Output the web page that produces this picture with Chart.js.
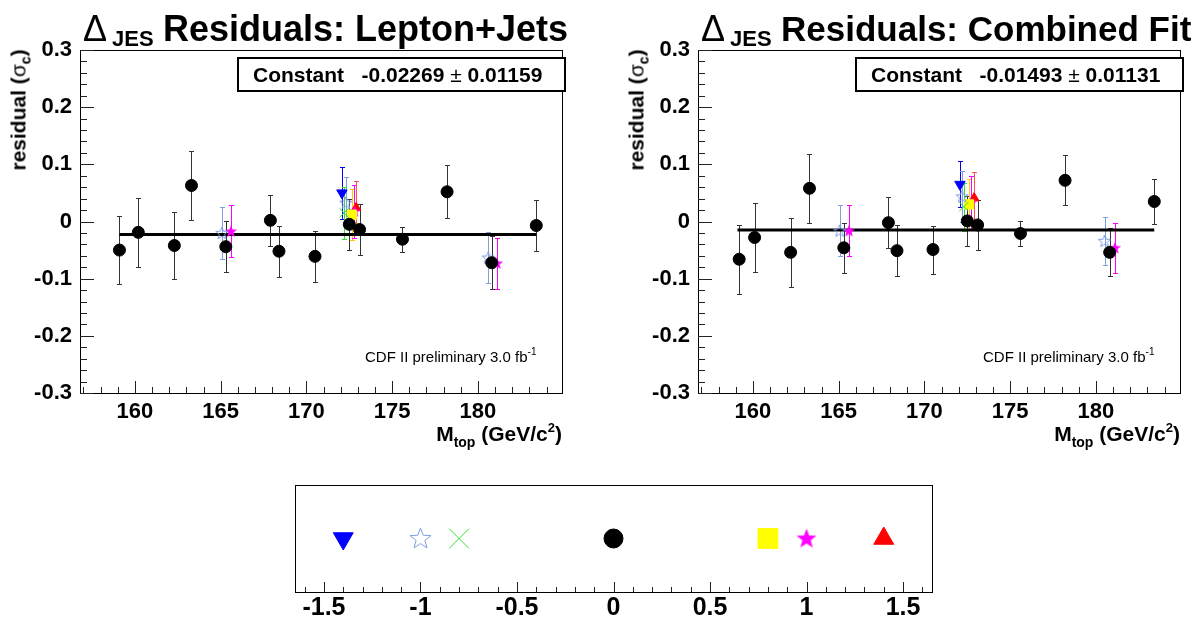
<!DOCTYPE html>
<html>
<head>
<meta charset="utf-8">
<title>JES residuals</title>
<script src="https://cdn.jsdelivr.net/npm/chart.js@4.4.1/dist/chart.umd.min.js"></script>
<style>
  body { margin:0; width:1203px; height:627px; position:relative; overflow:hidden; background:#fff;
         font-family:"Liberation Sans", Arial, Helvetica, sans-serif; color:#000; }
  canvas { position:absolute; }
  .txt { position:absolute; white-space:pre; line-height:1; }
  .statbox { position:absolute; border:2px solid #000; box-sizing:border-box; background:#fff; }
</style>
</head>
<body>
<canvas id="ljChart" width="600" height="460" style="left:0;top:0"></canvas>
<canvas id="cfChart" width="585" height="460" style="left:618px;top:0"></canvas>
<canvas id="keyChart" width="720" height="157" style="left:250px;top:470px"></canvas>
<script>
var FONT = '"Liberation Sans", Arial, Helvetica, sans-serif';

// axis ticks
var massTicks = [160, 165, 170, 175, 180];
var resTicks = [-0.3, -0.2, -0.1, 0, 0.1, 0.2, 0.3];
var shiftTicks = [-1.5, -1, -0.5, 0, 0.5, 1, 1.5];

// JES shift of each sample (bottom key), same order as the series below
var shiftVals = [-1.4, -1, -0.8, 0, 0.8, 1, 1.4];

// fit results
var fitConst = [-0.02269, -0.01493];
var fitErr = [0.01159, 0.01131];
var fitRange = [159.1, 183.4];

// Lepton+Jets
var ljBlueX = [172.07], ljBlueY = [0.050], ljBlueE = [0.045];
var ljOpenX = [165.07, 172.3, 180.6], ljOpenY = [-0.020, 0.033, -0.063], ljOpenE = [0.045, 0.045, 0.045];
var ljGreenX = [172.2], ljGreenY = [0.015], ljGreenE = [0.045];
var ljBlackX = [159.1, 160.2, 162.3, 163.3, 165.3, 167.9, 168.4, 170.5, 172.5, 173.1, 175.6, 178.2, 180.8, 183.4];
var ljBlackY = [-0.050, -0.019, -0.042, 0.063, -0.044, 0.002, -0.052, -0.061, -0.005, -0.014, -0.031, 0.052, -0.072, -0.007];
var ljBlackE = [0.060, 0.060, 0.059, 0.060, 0.045, 0.045, 0.045, 0.044, 0.044, 0.044, 0.022, 0.046, 0.046, 0.045];
var ljYellowX = [172.65], ljYellowY = [0.012], ljYellowE = [0.045];
var ljStarX = [165.6, 172.8, 181.1], ljStarY = [-0.017, 0.018, -0.073], ljStarE = [0.045, 0.046, 0.045];
var ljRedX = [172.9], ljRedY = [0.024], ljRedE = [0.046];

// Combined fit
var cfBlueX = [172.07], cfBlueY = [0.065], cfBlueE = [0.040];
var cfOpenX = [165.06, 172.2, 180.5], cfOpenY = [-0.016, 0.044, -0.034], cfOpenE = [0.045, 0.045, 0.042];
var cfGreenX = [172.3], cfGreenY = [0.026], cfGreenE = [0.042];
var cfBlackX = [159.2, 160.1, 162.2, 163.3, 165.3, 167.9, 168.4, 170.5, 172.5, 173.1, 175.6, 178.2, 180.8, 183.4];
var cfBlackY = [-0.066, -0.028, -0.054, 0.058, -0.046, -0.002, -0.051, -0.049, 0.001, -0.006, -0.021, 0.072, -0.054, 0.035];
var cfBlackE = [0.060, 0.060, 0.060, 0.060, 0.044, 0.045, 0.045, 0.042, 0.044, 0.043, 0.022, 0.044, 0.042, 0.040];
var cfYellowX = [172.6], cfYellowY = [0.030], cfYellowE = [0.045];
var cfStarX = [165.6, 172.7, 181.1], cfStarY = [-0.016, 0.033, -0.046], cfStarE = [0.045, 0.047, 0.044];
var cfRedX = [172.9], cfRedY = [0.041], cfRedE = [0.046];

function starImg(r, fill, stroke) {
    var s = Math.ceil(r * 2 + 3);
    var c = document.createElement('canvas');
    c.width = s; c.height = s;
    var g = c.getContext('2d');
    g.beginPath();
    for (var k = 0; k < 10; k++) {
        var rr = k % 2 ? r * 0.42 : r;
        var a = -Math.PI / 2 + k * Math.PI / 5;
        g.lineTo(s / 2 + rr * Math.cos(a), s / 2 + 0.5 + rr * Math.sin(a));
    }
    g.closePath();
    if (fill) { g.fillStyle = fill; g.fill(); }
    if (stroke) { g.strokeStyle = stroke; g.lineWidth = 1; g.stroke(); }
    return c;
}

// marker styles, r = in the residual plots, R = in the key
var marks = [
    { color: '#0000ff', style: 'triangle', rot: 180, r: 6, R: 11.5 },
    { color: '#7f9fdf', img: function (r) { return starImg(r, null, '#7f9fdf'); }, r: 6.5, R: 11 },
    { color: '#33dd33', style: 'crossRot', r: 6.5, R: 14 },
    { color: '#000000', bar: '#333333', style: 'circle', r: 6, R: 9.5 },
    { color: '#ffff00', bar: '#ffcc00', style: 'rect', r: 6.5, R: 14 },
    { color: '#ff00ff', img: function (r) { return starImg(r, '#ff00ff', null); }, r: 6.5, R: 10.5 },
    { color: '#ff0000', bar: '#ff5050', style: 'triangle', rot: 0, r: 5.5, R: 11.5 }
];

function pts(xs, ys) {
    return xs.map(function (x, i) { return { x: x, y: ys[i] }; });
}

function markDataset(m, data, errs, big, order) {
    var r = big ? m.R : m.r;
    return {
        data: data,
        errs: errs,
        errColor: m.bar || m.color,
        order: order,
        pointStyle: m.img ? m.img(r) : m.style,
        rotation: m.rot || 0,
        pointRadius: r,
        pointHoverRadius: r,
        backgroundColor: m.color,
        borderColor: m.color,
        borderWidth: 1
    };
}

var errPlugin = {
    id: 'errbars',
    beforeDatasetsDraw: function (chart) {
        var ctx = chart.ctx, xs = chart.scales.x, ys = chart.scales.y;
        chart.data.datasets.forEach(function (ds) {
            if (!ds.errs) return;
            ctx.save();
            ctx.strokeStyle = ds.errColor;
            ctx.lineWidth = 1;
            ds.data.forEach(function (p, j) {
                var px = Math.round(xs.getPixelForValue(p.x)) + 0.5;
                var y1 = Math.round(ys.getPixelForValue(p.y + ds.errs[j])) + 0.5;
                var y2 = Math.round(ys.getPixelForValue(p.y - ds.errs[j])) + 0.5;
                ctx.beginPath();
                ctx.moveTo(px, y1); ctx.lineTo(px, y2);
                ctx.moveTo(px - 2.5, y1); ctx.lineTo(px + 2.5, y1);
                ctx.moveTo(px - 2.5, y2); ctx.lineTo(px + 2.5, y2);
                ctx.stroke();
            });
            ctx.restore();
        });
    }
};

// ROOT style frame with ticks pointing inwards
var framePlugin = {
    id: 'frame',
    afterDraw: function (chart, args, o) {
        var a = chart.chartArea, ctx = chart.ctx;
        ctx.save();
        ctx.strokeStyle = '#000';
        ctx.lineWidth = 1;
        ctx.strokeRect(Math.round(a.left) + 0.5, Math.round(a.top) + 0.5,
            Math.round(a.right - a.left), Math.round(a.bottom - a.top));
        ctx.strokeStyle = '#222';
        ctx.beginPath();
        var xs = chart.scales.x;
        for (var i = Math.ceil(xs.min / o.xMinor - 1e-6); i * o.xMinor <= xs.max + 1e-9; i++) {
            var v = i * o.xMinor;
            var major = Math.abs(v / o.xMajor - Math.round(v / o.xMajor)) < 1e-6;
            var px = Math.round(xs.getPixelForValue(v)) + 0.5;
            ctx.moveTo(px, a.bottom);
            ctx.lineTo(px, a.bottom - (major ? o.xLen[1] : o.xLen[0]));
        }
        if (o.yMinor) {
            var ys = chart.scales.y;
            for (var k = Math.ceil(ys.min / o.yMinor - 1e-6); k * o.yMinor <= ys.max + 1e-9; k++) {
                var w = k * o.yMinor;
                var maj = Math.abs(w / o.yMajor - Math.round(w / o.yMajor)) < 1e-6;
                var py = Math.round(ys.getPixelForValue(w)) + 0.5;
                ctx.moveTo(a.left, py);
                ctx.lineTo(a.left + (maj ? o.yLen[1] : o.yLen[0]), py);
            }
        }
        ctx.stroke();
        ctx.restore();
    }
};

function residualChart(id, padRight, series, fitC) {
    var datasets = series.map(function (s, i) {
        return markDataset(marks[i], pts(s[0], s[1]), s[2], false, i === 3 ? 0 : 1);
    });
    datasets.push({
        data: [{ x: fitRange[0], y: fitC }, { x: fitRange[1], y: fitC }],
        showLine: true, borderColor: '#000', borderWidth: 3, pointRadius: 0, order: 5
    });
    return new Chart(document.getElementById(id), {
        type: 'scatter',
        data: { datasets: datasets },
        plugins: [errPlugin, framePlugin],
        options: {
            responsive: false,
            animation: false,
            layout: { padding: { top: 50, right: padRight, left: 0, bottom: 0 } },
            plugins: {
                legend: { display: false },
                tooltip: { enabled: false },
                frame: { xMinor: 1, xMajor: 5, xLen: [6, 12], yMinor: 0.02, yMajor: 0.1, yLen: [7, 14] }
            },
            scales: {
                x: {
                    type: 'linear', min: 156.8, max: 184.9,
                    afterBuildTicks: function (s) { s.ticks = massTicks.map(function (v) { return { value: v }; }); },
                    afterFit: function (s) { s.height = 67; },
                    grid: { display: false, drawTicks: false },
                    border: { display: false },
                    ticks: { color: '#000', padding: 6, maxRotation: 0, autoSkip: false,
                             font: { family: FONT, size: 22, weight: 'bold' } }
                },
                y: {
                    type: 'linear', min: -0.3, max: 0.3,
                    afterBuildTicks: function (s) { s.ticks = resTicks.map(function (v) { return { value: v }; }); },
                    afterFit: function (s) { s.width = 80; },
                    grid: { display: false, drawTicks: false },
                    border: { display: false },
                    ticks: { color: '#000', padding: 8, autoSkip: false,
                             font: { family: FONT, size: 22, weight: 'bold' },
                             callback: function (v) { return v === 0 ? '0' : v.toFixed(1); } }
                }
            }
        }
    });
}

residualChart('ljChart', 38, [
    [ljBlueX, ljBlueY, ljBlueE], [ljOpenX, ljOpenY, ljOpenE], [ljGreenX, ljGreenY, ljGreenE],
    [ljBlackX, ljBlackY, ljBlackE], [ljYellowX, ljYellowY, ljYellowE], [ljStarX, ljStarY, ljStarE],
    [ljRedX, ljRedY, ljRedE]
], fitConst[0]);

residualChart('cfChart', 23, [
    [cfBlueX, cfBlueY, cfBlueE], [cfOpenX, cfOpenY, cfOpenE], [cfGreenX, cfGreenY, cfGreenE],
    [cfBlackX, cfBlackY, cfBlackE], [cfYellowX, cfYellowY, cfYellowE], [cfStarX, cfStarY, cfStarE],
    [cfRedX, cfRedY, cfRedE]
], fitConst[1]);

// key with the JES shift of each marker
new Chart(document.getElementById('keyChart'), {
    type: 'scatter',
    data: {
        datasets: shiftVals.map(function (v, i) {
            return markDataset(marks[i], [{ x: v, y: 0.5 }], null, true, i === 3 ? 0 : 1);
        })
    },
    plugins: [framePlugin],
    options: {
        responsive: false,
        animation: false,
        layout: { padding: { top: 13, right: 38, left: 45, bottom: 0 } },
        plugins: {
            legend: { display: false },
            tooltip: { enabled: false },
            frame: { xMinor: 0.1, xMajor: 0.5, xLen: [5, 10] }
        },
        scales: {
            x: {
                type: 'linear', min: -1.65, max: 1.65,
                afterBuildTicks: function (s) { s.ticks = shiftTicks.map(function (v) { return { value: v }; }); },
                afterFit: function (s) { s.height = 35; },
                grid: { display: false, drawTicks: false },
                border: { display: false },
                ticks: { color: '#000', padding: 1, maxRotation: 0, autoSkip: false,
                         font: { family: FONT, size: 25, weight: 'bold' },
                         callback: function (v) { return String(v); } }
            },
            y: { display: false, min: 0, max: 1 }
        }
    }
});

// text: titles, stat boxes, axis titles
function put(html, x, base, fs, bold, align) {
    var d = document.createElement('div');
    d.className = 'txt';
    d.innerHTML = html;
    d.style.fontSize = fs + 'px';
    d.style.fontWeight = bold ? 'bold' : 'normal';
    d.style.left = x + 'px';
    d.style.top = (base - 0.8465 * fs) + 'px';
    if (align === 'right') d.style.transform = 'translateX(-100%)';
    document.body.appendChild(d);
    return d;
}

function panelText(dx, title, titleSize, c, e) {
    put('\u0394', 83 + dx, 41, 36, false);
    put('JES', 112 + dx, 47, 22, true);
    put(title, 163 + dx, 41, titleSize, true);

    var box = document.createElement('div');
    box.className = 'statbox';
    box.style.left = (237 + dx) + 'px';
    box.style.top = '57px';
    box.style.width = '329px';
    box.style.height = '35px';
    document.body.appendChild(box);
    put('Constant   ' + c.toFixed(5) + ' <span style="font-weight:normal">\u00b1</span> ' + e.toFixed(5), 253 + dx, 82, 21, true);

    put('CDF II preliminary 3.0 fb<span style="font-size:10px;position:relative;top:-7px">-1</span>', 365 + dx, 362, 15, false);

    put('M<span style="font-size:14px;position:relative;top:6px">top</span> (GeV/c<span style="font-size:13px;position:relative;top:-9px">2</span>)',
        562 + dx, 441, 21, true, 'right');

    var yt = put('residual (<span style="font-weight:normal">\u03c3</span><span style="font-size:14px;position:relative;top:5px">c</span>)',
        0, 0, 21, true);
    yt.style.left = (18 + dx) + 'px';
    yt.style.top = '110px';
    yt.style.transform = 'translate(-50%, -50%) rotate(-90deg)';
}

panelText(0, 'Residuals: Lepton+Jets', 36, fitConst[0], fitErr[0]);
panelText(618, 'Residuals: Combined Fit', 35, fitConst[1], fitErr[1]);
</script>
</body>
</html>
